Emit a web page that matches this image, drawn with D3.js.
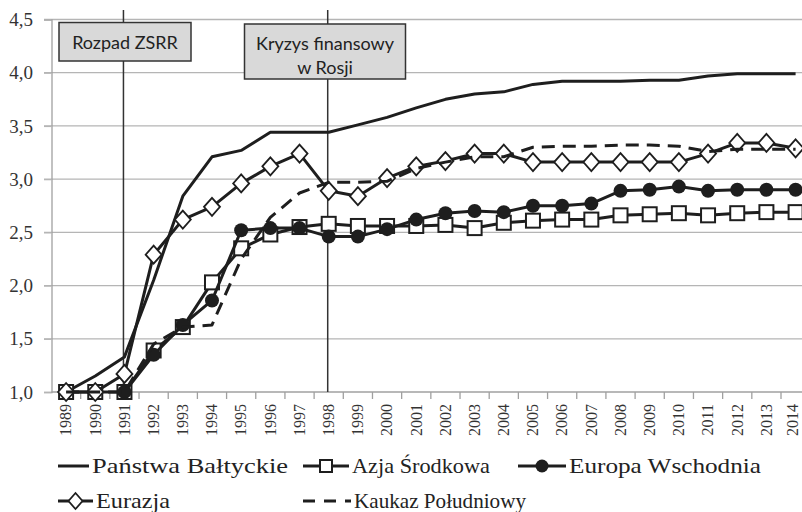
<!DOCTYPE html>
<html>
<head>
<meta charset="utf-8">
<script src="https://cdn.jsdelivr.net/npm/d3@7"></script>
<style>
  body { margin: 0; background: #fff; }
  svg { display: block; }
  .serif { font-family: "Liberation Serif", "Times New Roman", "DejaVu Serif", serif; }
</style>
</head>
<body>
<div id="chart"></div>
<script>
// lata
var years = ["1989","1990","1991","1992","1993","1994","1995","1996","1997","1998","1999","2000","2001",
             "2002","2003","2004","2005","2006","2007","2008","2009","2010","2011","2012","2013","2014"];

var baltyckie = [1.00,1.15,1.33,2.05,2.84,3.21,3.27,3.44,3.44,3.44,3.51,3.58,3.67,3.75,3.80,3.82,3.89,3.92,3.92,3.92,3.93,3.93,3.97,3.99,3.99,3.99];
var azja      = [1.00,1.00,1.00,1.39,1.61,2.03,2.35,2.48,2.55,2.58,2.56,2.56,2.56,2.57,2.54,2.59,2.61,2.62,2.62,2.66,2.67,2.68,2.66,2.68,2.69,2.69];
var europa    = [null,null,1.00,1.35,1.63,1.86,2.52,2.54,2.54,2.46,2.46,2.53,2.62,2.68,2.70,2.69,2.75,2.75,2.77,2.89,2.90,2.93,2.89,2.90,2.90,2.90];
var eurazja   = [1.00,1.00,1.17,2.29,2.62,2.74,2.96,3.12,3.24,2.89,2.84,3.01,3.12,3.17,3.24,3.24,3.16,3.16,3.16,3.16,3.16,3.16,3.24,3.34,3.34,3.29];
var kaukaz    = [1.00,1.00,1.00,1.45,1.61,1.63,2.25,2.64,2.87,2.97,2.97,2.98,3.10,3.16,3.21,3.21,3.30,3.31,3.31,3.32,3.32,3.31,3.26,3.28,3.28,3.28];

var yTicks = [1.0,1.5,2.0,2.5,3.0,3.5,4.0,4.5];

var events = [
  {year: "1991", lines: ["Rozpad ZSRR"]},
  {year: "1998", lines: ["Kryzys finansowy", "w Rosji"]}
];

var series = [
  {name: "Państwa Bałtyckie", values: baltyckie, marker: "none", dash: null},
  {name: "Azja Środkowa", values: azja, marker: "square", dash: null},
  {name: "Europa Wschodnia", values: europa, marker: "circle", dash: null},
  {name: "Eurazja", values: eurazja, marker: "diamond", dash: null},
  {name: "Kaukaz Południowy", values: kaukaz, marker: "none", dash: "13,8"}
];

var width = 802, height = 512;
var ink = "#1e1e1e";

var svg = d3.select("#chart").append("svg")
    .attr("width", width).attr("height", height);

var x = d3.scaleBand().domain(years).range([51.5, 51.5 + 26 * 29.18]);
var y = d3.scaleLinear().domain([1, 4.5]).range([392, 19.5]);
var cx = function(yr) { return x(yr) + x.bandwidth() / 2; };

// siatka
svg.append("g").selectAll("line")
   .data(yTicks.slice(1))
   .enter().append("line")
   .attr("x1", 44).attr("x2", width)
   .attr("y1", function(d) { return y(d); })
   .attr("y2", function(d) { return y(d); })
   .attr("stroke", "#b5b5b5").attr("stroke-width", 1.3);

// os Y
var yAxis = svg.append("g")
   .attr("transform", "translate(51.5,0)")
   .call(d3.axisLeft(y).tickValues(yTicks).tickSize(7.5).tickPadding(11)
        .tickFormat(function(d) { return d.toFixed(1).replace(".", ","); }));
yAxis.attr("font-family", null);
yAxis.select(".domain").attr("stroke", "#a0a0a0").attr("stroke-width", 1.3);
yAxis.selectAll(".tick line").attr("stroke", "#b5b5b5").attr("stroke-width", 1.3);
yAxis.selectAll("text")
   .attr("class", "serif")
   .style("font-size", "19px").attr("fill", "#333");

// os X
var xAxis = svg.append("g")
   .attr("transform", "translate(0,392)")
   .call(d3.axisBottom(x).tickSize(0).tickPadding(0));
xAxis.attr("font-family", null);
xAxis.select(".domain").remove();
xAxis.append("line").attr("x1", 51.5).attr("x2", width).attr("y1", 0).attr("y2", 0)
   .attr("stroke", "#a0a0a0").attr("stroke-width", 1.3);
xAxis.selectAll(".bnd").data(years).enter().append("line")
   .attr("class", "bnd")
   .attr("x1", function(d) { return x(d) + x.bandwidth(); })
   .attr("x2", function(d) { return x(d) + x.bandwidth(); })
   .attr("y1", 0).attr("y2", 7)
   .attr("stroke", "#a0a0a0").attr("stroke-width", 1.3);
xAxis.selectAll(".tick text")
   .attr("class", "serif")
   .style("font-size", "16px").attr("fill", "#333")
   .attr("text-anchor", "end")
   .attr("dy", "0.33em")
   .attr("transform", function(d) { return d == "2014" ? "translate(-2.5,12) rotate(-90)" : "translate(0,12) rotate(-90)"; });

// linie wydarzen
svg.append("g").selectAll("line")
   .data(events).enter().append("line")
   .attr("x1", function(d) { return cx(d.year) - 1; })
   .attr("x2", function(d) { return cx(d.year) - 1; })
   .attr("y1", 10).attr("y2", 392)
   .attr("stroke", "#333").attr("stroke-width", 1.5);

// serie
var line = d3.line()
   .defined(function(d) { return d != null; })
   .x(function(d, i) { return cx(years[i]); })
   .y(function(d) { return y(d); });

series.forEach(function(s) {
  var g = svg.append("g");
  g.append("path")
   .attr("d", line(s.values))
   .attr("fill", "none")
   .attr("stroke", ink)
   .attr("stroke-width", 3)
   .attr("stroke-linejoin", "round")
   .attr("stroke-dasharray", s.dash);

  var pts = s.values.map(function(v, i) { return {v: v, yr: years[i]}; })
                    .filter(function(d) { return d.v != null; });
  if (s.marker == "square") {
    g.selectAll("rect").data(pts).enter().append("rect")
     .attr("x", function(d) { return cx(d.yr) - 7; })
     .attr("y", function(d) { return y(d.v) - 7; })
     .attr("width", 14).attr("height", 14)
     .attr("fill", "#fff").attr("stroke", ink).attr("stroke-width", 2);
  }
  if (s.marker == "circle") {
    g.selectAll("circle").data(pts).enter().append("circle")
     .attr("cx", function(d) { return cx(d.yr); })
     .attr("cy", function(d) { return y(d.v); })
     .attr("r", 7)
     .attr("fill", ink);
  }
  if (s.marker == "diamond") {
    g.selectAll("path.m").data(pts).enter().append("path")
     .attr("class", "m")
     .attr("d", "M0,-9L8,0L0,9L-8,0Z")
     .attr("transform", function(d) { return "translate(" + cx(d.yr) + "," + y(d.v) + ")"; })
     .attr("fill", "#fff").attr("stroke", ink).attr("stroke-width", 1.8);
  }
});

// ramki z opisami
var boxes = [
  {x0: 59, y0: 22.5, w: 132, h: 38.5},
  {x0: 244.5, y0: 24, w: 161, h: 55}
];
events.forEach(function(ev, k) {
  var b = boxes[k];
  svg.append("rect")
     .attr("x", b.x0).attr("y", b.y0).attr("width", b.w).attr("height", b.h)
     .attr("fill", "#d9d9d9").attr("stroke", "#333").attr("stroke-width", 1.5);
  var t = svg.append("text")
     .attr("font-family", "Lato, 'Open Sans', sans-serif")
     .attr("font-size", 18).attr("fill", "#222")
     .attr("text-anchor", "middle");
  ev.lines.forEach(function(txt, j) {
    t.append("tspan")
     .attr("x", b.x0 + b.w / 2)
     .attr("y", b.y0 + 26 + j * 24)
     .text(txt);
  });
});

// legenda
var legendPos = [
  {x: 58, y: 466, tx: 92, tw: 196},
  {x: 303, y: 466, tx: 352, tw: 138},
  {x: 518, y: 466, tx: 569, tw: 192},
  {x: 58, y: 501, tx: 96, tw: 74},
  {x: 303, y: 501, tx: 354, tw: 172}
];
series.forEach(function(s, i) {
  var p = legendPos[i];
  var g = svg.append("g");
  var x2 = p.tx - 3;
  g.append("line")
   .attr("x1", p.x).attr("x2", x2).attr("y1", p.y).attr("y2", p.y)
   .attr("stroke", ink).attr("stroke-width", 3)
   .attr("stroke-dasharray", s.dash ? "12,9" : null);
  var mx = (p.x + x2) / 2;
  if (s.marker == "square") {
    g.append("rect").attr("x", mx - 6).attr("y", p.y - 6).attr("width", 12).attr("height", 12)
     .attr("fill", "#fff").attr("stroke", ink).attr("stroke-width", 2);
  }
  if (s.marker == "circle") {
    g.append("circle").attr("cx", mx).attr("cy", p.y).attr("r", 6.5).attr("fill", ink);
  }
  if (s.marker == "diamond") {
    g.append("path").attr("d", "M0,-8L7,0L0,8L-7,0Z")
     .attr("transform", "translate(" + mx + "," + p.y + ")")
     .attr("fill", "#fff").attr("stroke", ink).attr("stroke-width", 1.8);
  }
  g.append("text")
   .attr("class", "serif")
   .attr("x", p.tx).attr("y", p.y)
   .attr("dy", "0.33em")
   .attr("textLength", p.tw)
   .attr("lengthAdjust", "spacingAndGlyphs")
   .style("font-size", "21px").attr("fill", "#222")
   .text(s.name);
});
</script>
</body>
</html>
